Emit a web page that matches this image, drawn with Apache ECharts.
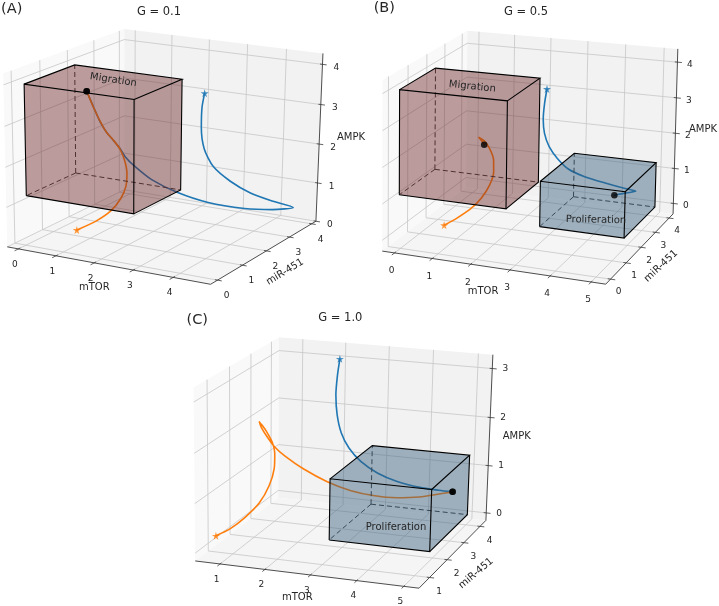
<!DOCTYPE html><html><head><meta charset="utf-8"><style>html,body{margin:0;background:#fff}#c{width:719px;height:606px}</style>
<script src="https://cdn.jsdelivr.net/npm/echarts@6/dist/echarts.min.js"></script></head><body><div id="c"></div><script>
// ---- data: mTOR, miR-451, AMPK along each trajectory ----
const A_blue_mTOR=[2.65,2.60,2.61,2.69,2.88,3.21,3.58,3.98,4.43,4.03,3.48,2.73,2.06,1.54,1.18,1.00,0.90,0.77,0.64,0.49,0.35,0.21];
const A_blue_miR=[3,2.98,2.95,2.96,3.05,3.25,3.5,3.75,4,3.75,3.45,3.1,2.85,2.6,2.45,2.35,2.28,2.22,2.15,2.1,2.05,2];
const A_blue_AMPK=[3.31,2.95,2.46,1.92,1.47,1.08,0.76,0.54,0.35,0.31,0.35,0.50,0.74,1.07,1.41,1.65,1.88,2.08,2.28,2.56,2.93,3.31];
const A_orange_mTOR=[1.07,1.47,1.76,1.91,1.94,1.83,1.63,1.40,1.13,0.88,0.65,0.42,0.21];
const A_orange_miR=[.4,.55,.7,.85,1,1.2,1.4,1.55,1.7,1.8,1.88,1.95,2];
const A_orange_AMPK=[0.43,0.67,0.93,1.21,1.47,1.71,1.95,2.16,2.29,2.42,2.65,2.96,3.31];
const B_blue_mTOR=[2.46,2.41,2.39,2.43,2.54,2.72,2.97,3.32,3.81,4.24,4.47,4.44,4.30,4.24];
const B_blue_miR=[3,2.98,2.96,2.96,3,3.1,3.25,3.45,3.65,3.85,4,3.6,3.3,3.1];
const B_blue_AMPK=[3.36,2.95,2.51,2.12,1.75,1.40,1.06,0.82,0.62,0.45,0.35,0.46,0.51,0.55];
const B_orange_mTOR=[0.96,1.20,1.42,1.60,1.70,1.69,1.57,1.37,1.13,0.94,1.00,1.06];
const B_orange_miR=[.4,.6,.85,1.1,1.35,1.6,1.85,2.05,2.25,2.35,2.38,2.4];
const B_orange_AMPK=[0.32,0.47,0.64,0.88,1.16,1.43,1.66,1.88,2.00,2.04,1.94,1.83];
const C_blue_mTOR=[2.46,2.42,2.40,2.44,2.54,2.71,2.97,3.34,3.78,4.29,4.72,5.03];
const C_blue_miR=[3,2.98,2.96,2.95,2.95,2.97,3,3.02,3.04,3.03,3.01,3];
const C_blue_AMPK=[3.33,3.00,2.61,2.21,1.85,1.55,1.29,1.08,0.94,0.87,0.86,0.86];
const C_orange_mTOR=[0.82,1.07,1.32,1.57,1.72,1.76,1.70,1.57,1.38,1.22,1.14,1.15,1.24,1.36,1.56,1.94,2.42,2.91,3.39,3.87,4.34,4.75,5.03];
const C_orange_miR=[.6,.75,.9,1.05,1.2,1.35,1.5,1.65,1.8,1.9,1.95,2.02,2.1,2.2,2.3,2.4,2.5,2.6,2.7,2.8,2.9,2.96,3];
const C_orange_AMPK=[0.33,0.45,0.65,0.92,1.24,1.54,1.78,1.96,2.10,2.20,2.24,2.11,1.91,1.69,1.48,1.22,0.98,0.81,0.72,0.69,0.72,0.80,0.86];
const migrationA=[-0.41,2.43,0.58,2.42,1,3.78];
const migrationB=[-0.79,2.1,1.44,3.4,0.52,3.5];
const proliferationB=[2.62,4.81,2.3,4.48,-0.25,1.03];
const proliferationC=[2.75,4.97,1.91,4.16,0,1.25];
const ticksA=[[0,1,2,3,4],[0,1,2,3,4],[0,1,2,3,4]];
const ticksB=[[0,1,2,3,4,5],[0,1,2,3,4],[0,1,2,3,4]];
const ticksC=[[1,2,3,4,5],[1,2,3,4],[0,1,2,3]];
const titles=['G = 0.1','G = 0.5','G = 1.0'];
const tags=['(A)','(B)','(C)'];
// ---- camera calibration and layout of each 3D panel ----
const BLUE='#1f77b4',ORANGE='#ff7f0e',INK='#262626',MIG='rgba(111,44,44,.26)',PRO='rgba(56,93,124,.26)';
const panels=[
{c:[[8.3,246.7],[210,285],[316.7,220],[123,190.5],[2.7,73],[125,29],[322.7,54]],xr:[-0.3,4.92],yr:[-0.27,4.2],zr:[0,4.27],t:ticksA,
 off:[[-3.5,15.5],[9,15.5],[14,3.5]],title:[159,11.7],tag:[11.7,9.5],xl:[94.3,287,0],yl:[285,272,31],zl:[351,137,0],
 boxes:[{q:migrationA,fill:MIG,name:'Migration',at:[113.3,80,-8.8]}],
 curves:[[A_blue_mTOR,A_blue_miR,A_blue_AMPK,BLUE],[A_orange_mTOR,A_orange_miR,A_orange_AMPK,ORANGE]]},
{c:[[382.7,255],[605,281.7],[673.3,216.7],[466,183.3],[382.7,78.3],[466.7,32.7],[678.3,48.3]],xr:[-0.33,5.35],yr:[-0.3,4.3],zr:[-0.3,4.37],t:ticksB,
 off:[[-3,18],[8,13],[12.5,2.5]],title:[526,11.7],tag:[384.3,8],xl:[483,291,0],yl:[661,266,43],zl:[703,129,0],
 boxes:[{q:migrationB,fill:MIG,name:'Migration',at:[472.3,86.7,-6]},{q:proliferationB,fill:PRO,name:'Proliferation',at:[596,220,-1]}],
 curves:[[B_blue_mTOR,B_blue_miR,B_blue_AMPK,BLUE],[B_orange_mTOR,B_orange_miR,B_orange_AMPK,ORANGE]]},
{c:[[196.7,561.7],[418.3,588.3],[486.7,520],[276.7,497.3],[192.7,386.7],[280,337.7],[492.7,355]],xr:[0.44,5.32],yr:[0.42,4.38],zr:[-0.16,3.28],t:ticksC,
 off:[[-3.5,15.5],[9.5,14],[13,0.5]],title:[340.3,318.3],tag:[197.3,320],xl:[297.3,597.7,0],yl:[476,573.3,40],zl:[516.7,436,0],
 boxes:[{q:proliferationC,fill:PRO,name:'Proliferation',at:[396,527.7,0]}],
 curves:[[C_blue_mTOR,C_blue_miR,C_blue_AMPK,BLUE],[C_orange_mTOR,C_orange_miR,C_orange_AMPK,ORANGE]]}];
function solve(A,b){const n=b.length;A=A.map((r,i)=>[...r,b[i]]);for(let i=0;i<n;i++){let m=i;for(let k=i+1;k<n;k++)if(Math.abs(A[k][i])>Math.abs(A[m][i]))m=k;[A[i],A[m]]=[A[m],A[i]];for(let k=i+1;k<n;k++){const f=A[k][i]/A[i][i];for(let j=i;j<=n;j++)A[k][j]-=f*A[i][j];}}const x=Array(n);for(let i=n-1;i>=0;i--){let s=A[i][n];for(let j=i+1;j<n;j++)s-=A[i][j]*x[j];x[i]=s/A[i][i];}return x;}
const uvw=[[0,0,0],[1,0,0],[1,1,0],[0,1,0],[0,0,1],[0,1,1],[1,1,1]];
function fit(p){const R=[],b=[];p.c.forEach((s,i)=>{const[u,v,w]=uvw[i],X=s[0]/100,Y=s[1]/100;R.push([u,v,w,1,0,0,0,0,-X*u,-X*v,-X*w]);b.push(X);R.push([0,0,0,0,u,v,w,1,-Y*u,-Y*v,-Y*w]);b.push(Y);});
const n=11,N=Array.from({length:n},()=>Array(n).fill(0)),r=Array(n).fill(0);R.forEach((row,k)=>{for(let i=0;i<n;i++){r[i]+=row[i]*b[k];for(let j=0;j<n;j++)N[i][j]+=row[i]*row[j];}});
const q=solve(N,r);
p.proj=(x,y,z)=>{const u=(x-p.xr[0])/(p.xr[1]-p.xr[0]),v=(y-p.yr[0])/(p.yr[1]-p.yr[0]),w=(z-p.zr[0])/(p.zr[1]-p.zr[0]),d=q[8]*u+q[9]*v+q[10]*w+1;return[100*(q[0]*u+q[1]*v+q[2]*w+q[3])/d,100*(q[4]*u+q[5]*v+q[6]*w+q[7])/d];};}
panels.forEach(fit);
const GRID='#c6c6c6',AX='#3a3a3a',FONT="'DejaVu Sans'";
const frame=[],front=[],text=[];
const txt=(x,y,s,size,rot,col)=>text.push({t:'text',pts:[[x,y]],s,size,rot:rot||0,col:col||INK});
panels.forEach((p,pi)=>{const[x0,x1]=p.xr,[y0,y1]=p.yr,[z0,z1]=p.zr,P=p.proj,dx=x1-x0,dy=y1-y0;
 frame.push({t:'poly',pts:[P(x0,y0,z0),P(x0,y1,z0),P(x0,y1,z1),P(x0,y0,z1)],fill:'#f9f9f9'},{t:'poly',pts:[P(x0,y1,z0),P(x1,y1,z0),P(x1,y1,z1),P(x0,y1,z1)],fill:'#f2f2f2'},{t:'poly',pts:[P(x0,y0,z0),P(x1,y0,z0),P(x1,y1,z0),P(x0,y1,z0)],fill:'#f5f5f5'});
 p.t[0].forEach(i=>frame.push({t:'line',pts:[P(i,y0,z0),P(i,y1,z0),P(i,y1,z1)],stroke:GRID,w:.8}));
 p.t[1].forEach(i=>frame.push({t:'line',pts:[P(x1,i,z0),P(x0,i,z0),P(x0,i,z1)],stroke:GRID,w:.8}));
 p.t[2].forEach(i=>frame.push({t:'line',pts:[P(x0,y0,i),P(x0,y1,i),P(x1,y1,i)],stroke:GRID,w:.8}));
 frame.push({t:'line',pts:[P(x0,y0,z0),P(x1,y0,z0),P(x1,y1,z0),P(x1,y1,z1)],stroke:AX,w:.9});
 p.t[0].forEach(i=>{frame.push({t:'line',pts:[P(i,y0+.015*dy,z0),P(i,y0-.03*dy,z0)],stroke:AX,w:.8});const a=P(i,y0,z0);txt(a[0]+p.off[0][0],a[1]+p.off[0][1],String(i),9);});
 p.t[1].forEach(i=>{frame.push({t:'line',pts:[P(x1-.012*dx,i,z0),P(x1+.02*dx,i,z0)],stroke:AX,w:.8});const a=P(x1,i,z0);txt(a[0]+p.off[1][0],a[1]+p.off[1][1],String(i),9);});
 p.t[2].forEach(i=>{frame.push({t:'line',pts:[P(x1-.012*dx,y1,i),P(x1+.02*dx,y1,i)],stroke:AX,w:.8});const a=P(x1,y1,i);txt(a[0]+p.off[2][0],a[1]+p.off[2][1],String(i),9);});
 txt(p.xl[0],p.xl[1],'mTOR',10,p.xl[2]);txt(p.yl[0],p.yl[1],'miR-451',10,p.yl[2]);txt(p.zl[0],p.zl[1],'AMPK',10,p.zl[2]);
 txt(p.tag[0],p.tag[1],tags[pi],14.5);
 p.boxes.forEach(b=>{const[a0,a1,b0,b1,c0,c1]=b.q;
  const hid=P(a0,b1,c0);
  [P(a0,b1,c1),P(a0,b0,c0),P(a1,b1,c0)].forEach(e=>front.push({t:'line',pts:[hid,e],stroke:'#3a3a3a',w:1,dash:[5,3]}));
  [[[a0,b0,c0],[a1,b0,c0],[a1,b0,c1],[a0,b0,c1]],[[a0,b1,c0],[a1,b1,c0],[a1,b1,c1],[a0,b1,c1]],[[a0,b0,c0],[a1,b0,c0],[a1,b1,c0],[a0,b1,c0]],[[a0,b0,c1],[a1,b0,c1],[a1,b1,c1],[a0,b1,c1]],[[a0,b0,c0],[a0,b1,c0],[a0,b1,c1],[a0,b0,c1]],[[a1,b0,c0],[a1,b1,c0],[a1,b1,c1],[a1,b0,c1]]].forEach(f=>front.push({t:'poly',pts:f.map(v=>P(...v)),fill:b.fill}));
  front.push({t:'line',pts:[[a0,b0,c0],[a1,b0,c0],[a1,b0,c1],[a0,b0,c1],[a0,b0,c0]].map(v=>P(...v)),stroke:'#000',w:1.1});
  front.push({t:'line',pts:[[a0,b0,c1],[a0,b1,c1],[a1,b1,c1],[a1,b0,c1]].map(v=>P(...v)),stroke:'#000',w:1.1});
  front.push({t:'line',pts:[[a1,b1,c1],[a1,b1,c0],[a1,b0,c0]].map(v=>P(...v)),stroke:'#000',w:1.1});
  txt(b.at[0],b.at[1],b.name,10,b.at[2]);
 });
});
const draw=list=>(a,api)=>{const k=list[api.value(0)],pts=k.pts.map(q=>api.coord(q));
 if(k.t=='poly')return{type:'polygon',shape:{points:pts},style:{fill:k.fill}};
 if(k.t=='line')return{type:'polyline',shape:{points:pts},style:{stroke:k.stroke,lineWidth:k.w,lineDash:k.dash||null,fill:null}};
 return{type:'text',x:pts[0][0],y:pts[0][1],rotation:k.rot*Math.PI/180,style:{text:k.s,fill:k.col,font:k.size+'px '+FONT,align:'center',verticalAlign:'middle'}};};
const layer=(list,z)=>({type:'custom',silent:true,z,clip:false,renderItem:draw(list),data:list.map((_,i)=>[i]),encode:{x:0,y:0}});
const STAR='path://M50 0L61 35H98L68 57L79 91L50 70L21 91L32 57L2 35H39Z';
const series=[layer(frame,1)];
const stars=[],dots=[];
panels.forEach(p=>p.curves.forEach(([mt,mi,am,col])=>{
 const data=mt.map((x,i)=>p.proj(x,mi[i],am[i]));
 series.push({type:'line',z:2,silent:true,showSymbol:false,smooth:.25,clip:false,lineStyle:{width:1.6,color:col,cap:'round',join:'round'},data});
 stars.push({value:data[0],itemStyle:{color:col}});dots.push(data[data.length-1]);
}));
series.push(layer(front,3));
series.push({type:'scatter',z:4,silent:true,symbol:STAR,symbolSize:8,data:stars,clip:false});
series.push({type:'scatter',z:5,silent:true,symbol:'circle',symbolSize:6.5,itemStyle:{color:'#000'},data:dots,clip:false});
series.push(layer(text,6));
const ch=echarts.init(document.getElementById('c'));
ch.setOption({animation:false,
 title:panels.map((p,i)=>({text:titles[i],padding:0,left:p.title[0],top:p.title[1],textAlign:'center',textVerticalAlign:'middle',textStyle:{fontFamily:'DejaVu Sans',fontWeight:'normal',fontSize:11.5,color:INK}})),
 grid:{left:0,top:0,right:0,bottom:0},xAxis:{type:'value',min:0,max:719,show:false},yAxis:{type:'value',min:0,max:606,inverse:true,show:false},series});
</script></body></html>
